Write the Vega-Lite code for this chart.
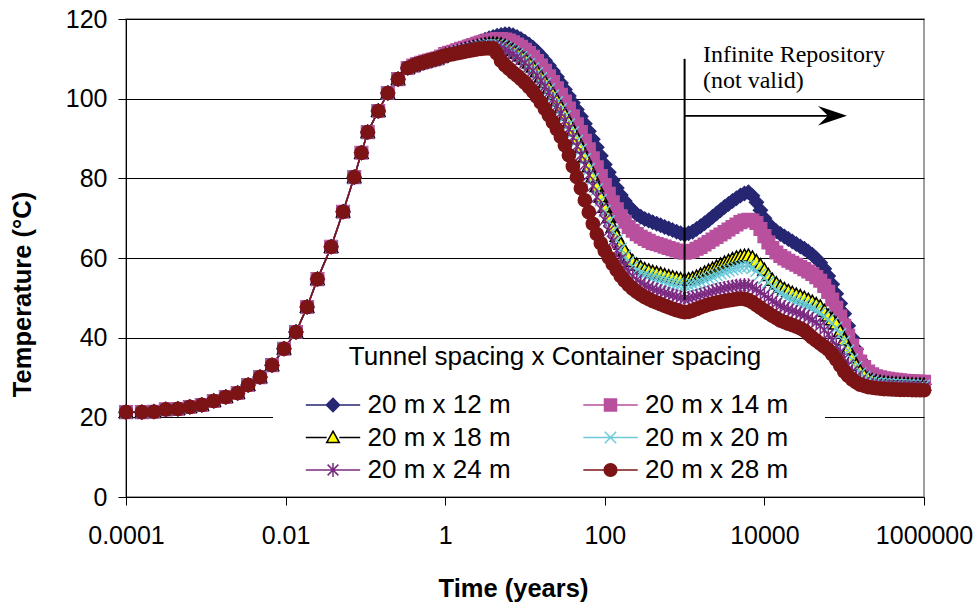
{
"$schema":"https://vega.github.io/schema/vega-lite/v6.json",
"width":798,"height":478,
"autosize":{"type":"none"},
"padding":{"left":126,"top":19,"right":53,"bottom":109},
"background":"white",
"config":{"font":"Liberation Sans","view":{"stroke":"#808080","strokeWidth":1.5},
"axis":{"labelFont":"Liberation Sans","titleFont":"Liberation Sans","labelColor":"black","titleColor":"black","domainColor":"black","tickColor":"black","gridColor":"black","gridOpacity":1,"domainWidth":1,"tickWidth":1},
"legend":{"labelFont":"Liberation Sans","titleFont":"Liberation Sans"}},
"datasets":{"curves":[
{"s":"12","t":0.0001,"T":21.3},{"s":"12","t":0.000158,"T":21.3},{"s":"12","t":0.000224,"T":21.4},{"s":"12","t":0.000316,"T":22},{"s":"12","t":0.000447,"T":22.1},{"s":"12","t":0.000631,"T":22.6},{"s":"12","t":0.000891,"T":23.1},{"s":"12","t":0.00126,"T":24.1},{"s":"12","t":0.00178,"T":25.1},{"s":"12","t":0.00251,"T":26.1},{"s":"12","t":0.00339,"T":28.1},{"s":"12","t":0.00479,"T":30.1},{"s":"12","t":0.00676,"T":33.1},{"s":"12","t":0.00955,"T":37.2},{"s":"12","t":0.0135,"T":41.4},{"s":"12","t":0.0186,"T":47.7},{"s":"12","t":0.0251,"T":54.7},{"s":"12","t":0.0372,"T":62.8},{"s":"12","t":0.0525,"T":71.6},{"s":"12","t":0.0724,"T":80.3},{"s":"12","t":0.0891,"T":86.4},{"s":"12","t":0.107,"T":91.6},{"s":"12","t":0.145,"T":96.9},{"s":"12","t":0.191,"T":101.4},{"s":"12","t":0.257,"T":104.9},{"s":"12","t":0.339,"T":107.7},{"s":"12","t":0.398,"T":108.3},{"s":"12","t":0.4467,"T":108.7},{"s":"12","t":0.501,"T":109},{"s":"12","t":0.5623,"T":109.3},{"s":"12","t":0.631,"T":109.6},{"s":"12","t":0.7079,"T":109.85},{"s":"12","t":0.794,"T":110.1},{"s":"12","t":0.8913,"T":110.6},
{"s":"12","t":1,"T":111.3},{"s":"12","t":1.122,"T":111.6},{"s":"12","t":1.259,"T":111.9},{"s":"12","t":1.413,"T":112.25},{"s":"12","t":1.585,"T":112.6},{"s":"12","t":1.778,"T":112.95},{"s":"12","t":1.995,"T":113.3},{"s":"12","t":2.239,"T":113.65},{"s":"12","t":2.512,"T":114},{"s":"12","t":2.818,"T":114.4},{"s":"12","t":3.162,"T":114.8},{"s":"12","t":3.548,"T":115.15},{"s":"12","t":3.981,"T":115.5},{"s":"12","t":4.467,"T":115.8},{"s":"12","t":5.012,"T":116},{"s":"12","t":5.623,"T":116.15},{"s":"12","t":6.31,"T":116.2},{"s":"12","t":7.079,"T":115.95},{"s":"12","t":7.943,"T":115.5},{"s":"12","t":8.913,"T":114.95},
{"s":"12","t":10,"T":114.3},{"s":"12","t":11.22,"T":113.6},{"s":"12","t":12.59,"T":112.8},{"s":"12","t":14.13,"T":111.85},{"s":"12","t":15.85,"T":110.8},{"s":"12","t":17.78,"T":109.6},{"s":"12","t":19.95,"T":108.3},{"s":"12","t":22.39,"T":106.95},{"s":"12","t":25.12,"T":105.5},{"s":"12","t":28.18,"T":103.95},{"s":"12","t":31.62,"T":102.3},{"s":"12","t":35.48,"T":100.7},{"s":"12","t":39.81,"T":99},{"s":"12","t":44.67,"T":97.3},{"s":"12","t":50.12,"T":95.5},{"s":"12","t":56.23,"T":93.7},{"s":"12","t":63.1,"T":91.8},{"s":"12","t":70.79,"T":89.8},{"s":"12","t":79.43,"T":87.8},{"s":"12","t":89.13,"T":85.7},
{"s":"12","t":100,"T":83.5},{"s":"12","t":112.2,"T":81.5},{"s":"12","t":125.9,"T":79.5},{"s":"12","t":141.3,"T":77.6},{"s":"12","t":158.5,"T":75.8},{"s":"12","t":177.8,"T":74.3},{"s":"12","t":199.5,"T":73},{"s":"12","t":223.9,"T":71.9},{"s":"12","t":251.2,"T":71},{"s":"12","t":281.8,"T":70.35},{"s":"12","t":316.2,"T":69.8},{"s":"12","t":354.8,"T":69.4},{"s":"12","t":398.1,"T":69},{"s":"12","t":446.7,"T":68.6},{"s":"12","t":501.2,"T":68.2},{"s":"12","t":562.3,"T":67.8},{"s":"12","t":631,"T":67.4},{"s":"12","t":707.9,"T":67},{"s":"12","t":794.3,"T":66.6},{"s":"12","t":891.3,"T":66.2},
{"s":"12","t":1000,"T":65.9},{"s":"12","t":1122,"T":66.2},{"s":"12","t":1259,"T":66.6},{"s":"12","t":1413,"T":67.3},{"s":"12","t":1585,"T":68},{"s":"12","t":1778,"T":68.75},{"s":"12","t":1995,"T":69.5},{"s":"12","t":2239,"T":70.35},{"s":"12","t":2512,"T":71.2},{"s":"12","t":2818,"T":72},{"s":"12","t":3162,"T":72.8},{"s":"12","t":3548,"T":73.55},{"s":"12","t":3981,"T":74.3},{"s":"12","t":4467,"T":75},{"s":"12","t":5012,"T":75.7},{"s":"12","t":5623,"T":76.2},{"s":"12","t":6310,"T":76.5},{"s":"12","t":7079,"T":75.6},{"s":"12","t":7943,"T":74},{"s":"12","t":8913,"T":72},
{"s":"12","t":10000,"T":70},{"s":"12","t":11220,"T":68.6},{"s":"12","t":12589,"T":67.5},{"s":"12","t":14125,"T":66.7},{"s":"12","t":15849,"T":66},{"s":"12","t":17783,"T":65.4},{"s":"12","t":19953,"T":64.8},{"s":"12","t":22387,"T":64.15},{"s":"12","t":25119,"T":63.5},{"s":"12","t":28184,"T":62.9},{"s":"12","t":31623,"T":62.3},{"s":"12","t":35481,"T":61.6},{"s":"12","t":39811,"T":60.8},{"s":"12","t":44668,"T":59.9},{"s":"12","t":50119,"T":58.8},{"s":"12","t":56234,"T":57.3},{"s":"12","t":63096,"T":55.5},{"s":"12","t":70795,"T":53.4},{"s":"12","t":79433,"T":51},{"s":"12","t":89125,"T":48.6},
{"s":"12","t":100000,"T":46},{"s":"12","t":112202,"T":43},{"s":"12","t":125893,"T":40},{"s":"12","t":141254,"T":37.1},{"s":"12","t":158489,"T":34.5},{"s":"12","t":177828,"T":32.5},{"s":"12","t":199526,"T":31},{"s":"12","t":223872,"T":30.3},{"s":"12","t":251189,"T":29.8},{"s":"12","t":281838,"T":29.45},{"s":"12","t":316228,"T":29.2},{"s":"12","t":354813,"T":29.05},{"s":"12","t":398107,"T":28.9},{"s":"12","t":446684,"T":28.8},{"s":"12","t":501187,"T":28.7},{"s":"12","t":562341,"T":28.6},{"s":"12","t":630957,"T":28.5},{"s":"12","t":707946,"T":28.45},{"s":"12","t":794328,"T":28.4},{"s":"12","t":891251,"T":28.35},{"s":"12","t":1000000,"T":28.3},

{"s":"14","t":0.0001,"T":21.3},{"s":"14","t":0.000158,"T":21.3},{"s":"14","t":0.000224,"T":21.4},{"s":"14","t":0.000316,"T":22},{"s":"14","t":0.000447,"T":22.1},{"s":"14","t":0.000631,"T":22.6},{"s":"14","t":0.000891,"T":23.1},{"s":"14","t":0.00126,"T":24.1},{"s":"14","t":0.00178,"T":25.1},{"s":"14","t":0.00251,"T":26.1},{"s":"14","t":0.00339,"T":28.1},{"s":"14","t":0.00479,"T":30.1},{"s":"14","t":0.00676,"T":33.1},{"s":"14","t":0.00955,"T":37.2},{"s":"14","t":0.0135,"T":41.4},{"s":"14","t":0.0186,"T":47.7},{"s":"14","t":0.0251,"T":54.7},{"s":"14","t":0.0372,"T":62.8},{"s":"14","t":0.0525,"T":71.6},{"s":"14","t":0.0724,"T":80.3},{"s":"14","t":0.0891,"T":86.4},{"s":"14","t":0.107,"T":91.6},{"s":"14","t":0.145,"T":96.9},{"s":"14","t":0.191,"T":101.4},{"s":"14","t":0.257,"T":104.9},{"s":"14","t":0.339,"T":107.7},{"s":"14","t":0.398,"T":108.3},{"s":"14","t":0.4467,"T":108.7},{"s":"14","t":0.501,"T":109},{"s":"14","t":0.5623,"T":109.3},{"s":"14","t":0.631,"T":109.6},{"s":"14","t":0.7079,"T":109.85},{"s":"14","t":0.794,"T":110.1},{"s":"14","t":0.8913,"T":110.6},
{"s":"14","t":1,"T":111.2},{"s":"14","t":1.122,"T":111.5},{"s":"14","t":1.259,"T":111.8},{"s":"14","t":1.413,"T":112.15},{"s":"14","t":1.585,"T":112.5},{"s":"14","t":1.778,"T":112.8},{"s":"14","t":1.995,"T":113.1},{"s":"14","t":2.239,"T":113.45},{"s":"14","t":2.512,"T":113.8},{"s":"14","t":2.818,"T":114.1},{"s":"14","t":3.162,"T":114.4},{"s":"14","t":3.548,"T":114.6},{"s":"14","t":3.981,"T":114.8},{"s":"14","t":4.467,"T":114.95},{"s":"14","t":5.012,"T":115},{"s":"14","t":5.623,"T":114.85},{"s":"14","t":6.31,"T":114.6},{"s":"14","t":7.079,"T":114.15},{"s":"14","t":7.943,"T":113.6},{"s":"14","t":8.913,"T":113},
{"s":"14","t":10,"T":112.3},{"s":"14","t":11.22,"T":111.45},{"s":"14","t":12.59,"T":110.5},{"s":"14","t":14.13,"T":109.45},{"s":"14","t":15.85,"T":108.3},{"s":"14","t":17.78,"T":107},{"s":"14","t":19.95,"T":105.6},{"s":"14","t":22.39,"T":104.15},{"s":"14","t":25.12,"T":102.6},{"s":"14","t":28.18,"T":100.95},{"s":"14","t":31.62,"T":99.3},{"s":"14","t":35.48,"T":97.5},{"s":"14","t":39.81,"T":95.6},{"s":"14","t":44.67,"T":93.6},{"s":"14","t":50.12,"T":91.6},{"s":"14","t":56.23,"T":89.45},{"s":"14","t":63.1,"T":87.3},{"s":"14","t":70.79,"T":85.05},{"s":"14","t":79.43,"T":82.8},{"s":"14","t":89.13,"T":80.55},
{"s":"14","t":100,"T":78.3},{"s":"14","t":112.2,"T":76.1},{"s":"14","t":125.9,"T":74},{"s":"14","t":141.3,"T":72.2},{"s":"14","t":158.5,"T":70.5},{"s":"14","t":177.8,"T":69.1},{"s":"14","t":199.5,"T":67.8},{"s":"14","t":223.9,"T":66.85},{"s":"14","t":251.2,"T":66},{"s":"14","t":281.8,"T":65.35},{"s":"14","t":316.2,"T":64.8},{"s":"14","t":354.8,"T":64.3},{"s":"14","t":398.1,"T":63.8},{"s":"14","t":446.7,"T":63.5},{"s":"14","t":501.2,"T":63.2},{"s":"14","t":562.3,"T":62.85},{"s":"14","t":631,"T":62.5},{"s":"14","t":707.9,"T":62.2},{"s":"14","t":794.3,"T":61.9},{"s":"14","t":891.3,"T":61.6},
{"s":"14","t":1000,"T":61.3},{"s":"14","t":1122,"T":61.5},{"s":"14","t":1259,"T":61.8},{"s":"14","t":1413,"T":62.3},{"s":"14","t":1585,"T":62.8},{"s":"14","t":1778,"T":63.4},{"s":"14","t":1995,"T":64},{"s":"14","t":2239,"T":64.65},{"s":"14","t":2512,"T":65.3},{"s":"14","t":2818,"T":65.9},{"s":"14","t":3162,"T":66.5},{"s":"14","t":3548,"T":67.15},{"s":"14","t":3981,"T":67.8},{"s":"14","t":4467,"T":68.4},{"s":"14","t":5012,"T":69},{"s":"14","t":5623,"T":69.4},{"s":"14","t":6310,"T":69.6},{"s":"14","t":7079,"T":69.4},{"s":"14","t":7943,"T":68.8},{"s":"14","t":8913,"T":67.3},
{"s":"14","t":10000,"T":65.5},{"s":"14","t":11220,"T":63.9},{"s":"14","t":12589,"T":62.5},{"s":"14","t":14125,"T":61.4},{"s":"14","t":15849,"T":60.5},{"s":"14","t":17783,"T":59.9},{"s":"14","t":19953,"T":59.3},{"s":"14","t":22387,"T":58.8},{"s":"14","t":25119,"T":58.3},{"s":"14","t":28184,"T":57.75},{"s":"14","t":31623,"T":57.2},{"s":"14","t":35481,"T":56.6},{"s":"14","t":39811,"T":56},{"s":"14","t":44668,"T":55.2},{"s":"14","t":50119,"T":54.3},{"s":"14","t":56234,"T":53},{"s":"14","t":63096,"T":51.5},{"s":"14","t":70795,"T":49.6},{"s":"14","t":79433,"T":47.5},{"s":"14","t":89125,"T":45.3},
{"s":"14","t":100000,"T":43},{"s":"14","t":112202,"T":40.5},{"s":"14","t":125893,"T":38},{"s":"14","t":141254,"T":35.9},{"s":"14","t":158489,"T":34},{"s":"14","t":177828,"T":32.6},{"s":"14","t":199526,"T":31.5},{"s":"14","t":223872,"T":30.8},{"s":"14","t":251189,"T":30.3},{"s":"14","t":281838,"T":30.05},{"s":"14","t":316228,"T":29.8},{"s":"14","t":354813,"T":29.65},{"s":"14","t":398107,"T":29.5},{"s":"14","t":446684,"T":29.4},{"s":"14","t":501187,"T":29.3},{"s":"14","t":562341,"T":29.2},{"s":"14","t":630957,"T":29.1},{"s":"14","t":707946,"T":29.05},{"s":"14","t":794328,"T":29},{"s":"14","t":891251,"T":28.95},{"s":"14","t":1000000,"T":28.9},

{"s":"18","t":0.0001,"T":21.3},{"s":"18","t":0.000158,"T":21.3},{"s":"18","t":0.000224,"T":21.4},{"s":"18","t":0.000316,"T":22},{"s":"18","t":0.000447,"T":22.1},{"s":"18","t":0.000631,"T":22.6},{"s":"18","t":0.000891,"T":23.1},{"s":"18","t":0.00126,"T":24.1},{"s":"18","t":0.00178,"T":25.1},{"s":"18","t":0.00251,"T":26.1},{"s":"18","t":0.00339,"T":28.1},{"s":"18","t":0.00479,"T":30.1},{"s":"18","t":0.00676,"T":33.1},{"s":"18","t":0.00955,"T":37.2},{"s":"18","t":0.0135,"T":41.4},{"s":"18","t":0.0186,"T":47.7},{"s":"18","t":0.0251,"T":54.7},{"s":"18","t":0.0372,"T":62.8},{"s":"18","t":0.0525,"T":71.6},{"s":"18","t":0.0724,"T":80.3},{"s":"18","t":0.0891,"T":86.4},{"s":"18","t":0.107,"T":91.6},{"s":"18","t":0.145,"T":96.9},{"s":"18","t":0.191,"T":101.4},{"s":"18","t":0.257,"T":104.9},{"s":"18","t":0.339,"T":107.7},{"s":"18","t":0.398,"T":108.3},{"s":"18","t":0.4467,"T":108.7},{"s":"18","t":0.501,"T":109},{"s":"18","t":0.5623,"T":109.3},{"s":"18","t":0.631,"T":109.6},{"s":"18","t":0.7079,"T":109.85},{"s":"18","t":0.794,"T":110.1},{"s":"18","t":0.8913,"T":110.5},
{"s":"18","t":1,"T":111},{"s":"18","t":1.122,"T":111.25},{"s":"18","t":1.259,"T":111.5},{"s":"18","t":1.413,"T":111.8},{"s":"18","t":1.585,"T":112.1},{"s":"18","t":1.778,"T":112.4},{"s":"18","t":1.995,"T":112.7},{"s":"18","t":2.239,"T":112.95},{"s":"18","t":2.512,"T":113.2},{"s":"18","t":2.818,"T":113.4},{"s":"18","t":3.162,"T":113.6},{"s":"18","t":3.548,"T":113.75},{"s":"18","t":3.981,"T":113.8},{"s":"18","t":4.467,"T":113.75},{"s":"18","t":5.012,"T":113.6},{"s":"18","t":5.623,"T":113.2},{"s":"18","t":6.31,"T":112.7},{"s":"18","t":7.079,"T":112.15},{"s":"18","t":7.943,"T":111.5},{"s":"18","t":8.913,"T":110.8},
{"s":"18","t":10,"T":110},{"s":"18","t":11.22,"T":109.05},{"s":"18","t":12.59,"T":108},{"s":"18","t":14.13,"T":106.8},{"s":"18","t":15.85,"T":105.5},{"s":"18","t":17.78,"T":104.15},{"s":"18","t":19.95,"T":102.7},{"s":"18","t":22.39,"T":101.15},{"s":"18","t":25.12,"T":99.5},{"s":"18","t":28.18,"T":97.8},{"s":"18","t":31.62,"T":96},{"s":"18","t":35.48,"T":94.05},{"s":"18","t":39.81,"T":92},{"s":"18","t":44.67,"T":89.95},{"s":"18","t":50.12,"T":87.8},{"s":"18","t":56.23,"T":85.45},{"s":"18","t":63.1,"T":83},{"s":"18","t":70.79,"T":80.5},{"s":"18","t":79.43,"T":78},{"s":"18","t":89.13,"T":75.4},
{"s":"18","t":100,"T":72.8},{"s":"18","t":112.2,"T":70.25},{"s":"18","t":125.9,"T":67.8},{"s":"18","t":141.3,"T":65.55},{"s":"18","t":158.5,"T":63.5},{"s":"18","t":177.8,"T":61.8},{"s":"18","t":199.5,"T":60.3},{"s":"18","t":223.9,"T":59.2},{"s":"18","t":251.2,"T":58.3},{"s":"18","t":281.8,"T":57.7},{"s":"18","t":316.2,"T":57.2},{"s":"18","t":354.8,"T":56.85},{"s":"18","t":398.1,"T":56.5},{"s":"18","t":446.7,"T":56.25},{"s":"18","t":501.2,"T":56},{"s":"18","t":562.3,"T":55.7},{"s":"18","t":631,"T":55.4},{"s":"18","t":707.9,"T":55.15},{"s":"18","t":794.3,"T":54.9},{"s":"18","t":891.3,"T":54.7},
{"s":"18","t":1000,"T":54.5},{"s":"18","t":1122,"T":54.65},{"s":"18","t":1259,"T":54.9},{"s":"18","t":1413,"T":55.3},{"s":"18","t":1585,"T":55.8},{"s":"18","t":1778,"T":56.3},{"s":"18","t":1995,"T":56.8},{"s":"18","t":2239,"T":57.3},{"s":"18","t":2512,"T":57.8},{"s":"18","t":2818,"T":58.3},{"s":"18","t":3162,"T":58.8},{"s":"18","t":3548,"T":59.25},{"s":"18","t":3981,"T":59.7},{"s":"18","t":4467,"T":60.1},{"s":"18","t":5012,"T":60.4},{"s":"18","t":5623,"T":60.55},{"s":"18","t":6310,"T":60.6},{"s":"18","t":7079,"T":60.1},{"s":"18","t":7943,"T":59.2},{"s":"18","t":8913,"T":58.2},
{"s":"18","t":10000,"T":57},{"s":"18","t":11220,"T":55.7},{"s":"18","t":12589,"T":54.5},{"s":"18","t":14125,"T":53.6},{"s":"18","t":15849,"T":52.8},{"s":"18","t":17783,"T":52.2},{"s":"18","t":19953,"T":51.7},{"s":"18","t":22387,"T":51.25},{"s":"18","t":25119,"T":50.8},{"s":"18","t":28184,"T":50.4},{"s":"18","t":31623,"T":50},{"s":"18","t":35481,"T":49.5},{"s":"18","t":39811,"T":49},{"s":"18","t":44668,"T":48.4},{"s":"18","t":50119,"T":47.8},{"s":"18","t":56234,"T":46.7},{"s":"18","t":63096,"T":45.5},{"s":"18","t":70795,"T":44.6},{"s":"18","t":79433,"T":43.5},{"s":"18","t":89125,"T":41.6},
{"s":"18","t":100000,"T":39.5},{"s":"18","t":112202,"T":37.2},{"s":"18","t":125893,"T":35},{"s":"18","t":141254,"T":33.1},{"s":"18","t":158489,"T":31.5},{"s":"18","t":177828,"T":30.5},{"s":"18","t":199526,"T":29.7},{"s":"18","t":223872,"T":29.3},{"s":"18","t":251189,"T":29},{"s":"18","t":281838,"T":28.85},{"s":"18","t":316228,"T":28.7},{"s":"18","t":354813,"T":28.6},{"s":"18","t":398107,"T":28.5},{"s":"18","t":446684,"T":28.45},{"s":"18","t":501187,"T":28.4},{"s":"18","t":562341,"T":28.35},{"s":"18","t":630957,"T":28.3},{"s":"18","t":707946,"T":28.25},{"s":"18","t":794328,"T":28.2},{"s":"18","t":891251,"T":28.2},{"s":"18","t":1000000,"T":28.2},

{"s":"20","t":0.0001,"T":21.3},{"s":"20","t":0.000158,"T":21.3},{"s":"20","t":0.000224,"T":21.4},{"s":"20","t":0.000316,"T":22},{"s":"20","t":0.000447,"T":22.1},{"s":"20","t":0.000631,"T":22.6},{"s":"20","t":0.000891,"T":23.1},{"s":"20","t":0.00126,"T":24.1},{"s":"20","t":0.00178,"T":25.1},{"s":"20","t":0.00251,"T":26.1},{"s":"20","t":0.00339,"T":28.1},{"s":"20","t":0.00479,"T":30.1},{"s":"20","t":0.00676,"T":33.1},{"s":"20","t":0.00955,"T":37.2},{"s":"20","t":0.0135,"T":41.4},{"s":"20","t":0.0186,"T":47.7},{"s":"20","t":0.0251,"T":54.7},{"s":"20","t":0.0372,"T":62.8},{"s":"20","t":0.0525,"T":71.6},{"s":"20","t":0.0724,"T":80.3},{"s":"20","t":0.0891,"T":86.4},{"s":"20","t":0.107,"T":91.6},{"s":"20","t":0.145,"T":96.9},{"s":"20","t":0.191,"T":101.4},{"s":"20","t":0.257,"T":104.9},{"s":"20","t":0.339,"T":107.7},{"s":"20","t":0.398,"T":108.3},{"s":"20","t":0.4467,"T":108.7},{"s":"20","t":0.501,"T":109},{"s":"20","t":0.5623,"T":109.3},{"s":"20","t":0.631,"T":109.6},{"s":"20","t":0.7079,"T":109.85},{"s":"20","t":0.794,"T":110.1},{"s":"20","t":0.8913,"T":110.5},
{"s":"20","t":1,"T":111},{"s":"20","t":1.122,"T":111.2},{"s":"20","t":1.259,"T":111.4},{"s":"20","t":1.413,"T":111.7},{"s":"20","t":1.585,"T":112},{"s":"20","t":1.778,"T":112.25},{"s":"20","t":1.995,"T":112.5},{"s":"20","t":2.239,"T":112.75},{"s":"20","t":2.512,"T":113},{"s":"20","t":2.818,"T":113.2},{"s":"20","t":3.162,"T":113.4},{"s":"20","t":3.548,"T":113.5},{"s":"20","t":3.981,"T":113.5},{"s":"20","t":4.467,"T":113.4},{"s":"20","t":5.012,"T":113.2},{"s":"20","t":5.623,"T":112.8},{"s":"20","t":6.31,"T":112.3},{"s":"20","t":7.079,"T":111.75},{"s":"20","t":7.943,"T":111.1},{"s":"20","t":8.913,"T":110.4},
{"s":"20","t":10,"T":109.6},{"s":"20","t":11.22,"T":108.65},{"s":"20","t":12.59,"T":107.6},{"s":"20","t":14.13,"T":106.4},{"s":"20","t":15.85,"T":105.1},{"s":"20","t":17.78,"T":103.75},{"s":"20","t":19.95,"T":102.3},{"s":"20","t":22.39,"T":100.75},{"s":"20","t":25.12,"T":99.1},{"s":"20","t":28.18,"T":97.35},{"s":"20","t":31.62,"T":95.5},{"s":"20","t":35.48,"T":93.55},{"s":"20","t":39.81,"T":91.5},{"s":"20","t":44.67,"T":89.4},{"s":"20","t":50.12,"T":87.2},{"s":"20","t":56.23,"T":84.8},{"s":"20","t":63.1,"T":82.3},{"s":"20","t":70.79,"T":79.8},{"s":"20","t":79.43,"T":77.2},{"s":"20","t":89.13,"T":74.5},
{"s":"20","t":100,"T":71.8},{"s":"20","t":112.2,"T":69.2},{"s":"20","t":125.9,"T":66.7},{"s":"20","t":141.3,"T":64.4},{"s":"20","t":158.5,"T":62.3},{"s":"20","t":177.8,"T":60.5},{"s":"20","t":199.5,"T":59},{"s":"20","t":223.9,"T":57.85},{"s":"20","t":251.2,"T":56.9},{"s":"20","t":281.8,"T":56.3},{"s":"20","t":316.2,"T":55.8},{"s":"20","t":354.8,"T":55.45},{"s":"20","t":398.1,"T":55.1},{"s":"20","t":446.7,"T":54.85},{"s":"20","t":501.2,"T":54.6},{"s":"20","t":562.3,"T":54.3},{"s":"20","t":631,"T":54},{"s":"20","t":707.9,"T":53.75},{"s":"20","t":794.3,"T":53.5},{"s":"20","t":891.3,"T":53.3},
{"s":"20","t":1000,"T":53.1},{"s":"20","t":1122,"T":53.2},{"s":"20","t":1259,"T":53.4},{"s":"20","t":1413,"T":53.75},{"s":"20","t":1585,"T":54.1},{"s":"20","t":1778,"T":54.5},{"s":"20","t":1995,"T":54.9},{"s":"20","t":2239,"T":55.3},{"s":"20","t":2512,"T":55.7},{"s":"20","t":2818,"T":56.1},{"s":"20","t":3162,"T":56.5},{"s":"20","t":3548,"T":56.85},{"s":"20","t":3981,"T":57.2},{"s":"20","t":4467,"T":57.5},{"s":"20","t":5012,"T":57.8},{"s":"20","t":5623,"T":57.95},{"s":"20","t":6310,"T":58},{"s":"20","t":7079,"T":57.5},{"s":"20","t":7943,"T":56.8},{"s":"20","t":8913,"T":55.95},
{"s":"20","t":10000,"T":55},{"s":"20","t":11220,"T":53.9},{"s":"20","t":12589,"T":52.8},{"s":"20","t":14125,"T":51.95},{"s":"20","t":15849,"T":51.2},{"s":"20","t":17783,"T":50.55},{"s":"20","t":19953,"T":50},{"s":"20","t":22387,"T":49.55},{"s":"20","t":25119,"T":49.1},{"s":"20","t":28184,"T":48.7},{"s":"20","t":31623,"T":48.3},{"s":"20","t":35481,"T":47.85},{"s":"20","t":39811,"T":47.4},{"s":"20","t":44668,"T":46.8},{"s":"20","t":50119,"T":46.2},{"s":"20","t":56234,"T":45.4},{"s":"20","t":63096,"T":44.5},{"s":"20","t":70795,"T":43.6},{"s":"20","t":79433,"T":42.5},{"s":"20","t":89125,"T":40.9},
{"s":"20","t":100000,"T":39},{"s":"20","t":112202,"T":36.8},{"s":"20","t":125893,"T":34.5},{"s":"20","t":141254,"T":32.6},{"s":"20","t":158489,"T":31},{"s":"20","t":177828,"T":30.1},{"s":"20","t":199526,"T":29.4},{"s":"20","t":223872,"T":29},{"s":"20","t":251189,"T":28.7},{"s":"20","t":281838,"T":28.55},{"s":"20","t":316228,"T":28.4},{"s":"20","t":354813,"T":28.35},{"s":"20","t":398107,"T":28.3},{"s":"20","t":446684,"T":28.25},{"s":"20","t":501187,"T":28.2},{"s":"20","t":562341,"T":28.15},{"s":"20","t":630957,"T":28.1},{"s":"20","t":707946,"T":28.05},{"s":"20","t":794328,"T":28},{"s":"20","t":891251,"T":28},{"s":"20","t":1000000,"T":28},

{"s":"24","t":0.0001,"T":21.3},{"s":"24","t":0.000158,"T":21.3},{"s":"24","t":0.000224,"T":21.4},{"s":"24","t":0.000316,"T":22},{"s":"24","t":0.000447,"T":22.1},{"s":"24","t":0.000631,"T":22.6},{"s":"24","t":0.000891,"T":23.1},{"s":"24","t":0.00126,"T":24.1},{"s":"24","t":0.00178,"T":25.1},{"s":"24","t":0.00251,"T":26.1},{"s":"24","t":0.00339,"T":28.1},{"s":"24","t":0.00479,"T":30.1},{"s":"24","t":0.00676,"T":33.1},{"s":"24","t":0.00955,"T":37.2},{"s":"24","t":0.0135,"T":41.4},{"s":"24","t":0.0186,"T":47.7},{"s":"24","t":0.0251,"T":54.7},{"s":"24","t":0.0372,"T":62.8},{"s":"24","t":0.0525,"T":71.6},{"s":"24","t":0.0724,"T":80.3},{"s":"24","t":0.0891,"T":86.4},{"s":"24","t":0.107,"T":91.6},{"s":"24","t":0.145,"T":96.9},{"s":"24","t":0.191,"T":101.4},{"s":"24","t":0.257,"T":104.9},{"s":"24","t":0.339,"T":107.7},{"s":"24","t":0.398,"T":108.3},{"s":"24","t":0.4467,"T":108.7},{"s":"24","t":0.501,"T":109},{"s":"24","t":0.5623,"T":109.3},{"s":"24","t":0.631,"T":109.6},{"s":"24","t":0.7079,"T":109.85},{"s":"24","t":0.794,"T":110.1},{"s":"24","t":0.8913,"T":110.5},
{"s":"24","t":1,"T":110.9},{"s":"24","t":1.122,"T":111.1},{"s":"24","t":1.259,"T":111.3},{"s":"24","t":1.413,"T":111.55},{"s":"24","t":1.585,"T":111.8},{"s":"24","t":1.778,"T":112.05},{"s":"24","t":1.995,"T":112.3},{"s":"24","t":2.239,"T":112.5},{"s":"24","t":2.512,"T":112.7},{"s":"24","t":2.818,"T":112.85},{"s":"24","t":3.162,"T":113},{"s":"24","t":3.548,"T":113.05},{"s":"24","t":3.981,"T":113},{"s":"24","t":4.467,"T":112.9},{"s":"24","t":5.012,"T":112.7},{"s":"24","t":5.623,"T":112.3},{"s":"24","t":6.31,"T":111.8},{"s":"24","t":7.079,"T":111.2},{"s":"24","t":7.943,"T":110.5},{"s":"24","t":8.913,"T":109.8},
{"s":"24","t":10,"T":109},{"s":"24","t":11.22,"T":108.05},{"s":"24","t":12.59,"T":107},{"s":"24","t":14.13,"T":105.8},{"s":"24","t":15.85,"T":104.5},{"s":"24","t":17.78,"T":103.05},{"s":"24","t":19.95,"T":101.5},{"s":"24","t":22.39,"T":99.9},{"s":"24","t":25.12,"T":98.2},{"s":"24","t":28.18,"T":96.4},{"s":"24","t":31.62,"T":94.5},{"s":"24","t":35.48,"T":92.45},{"s":"24","t":39.81,"T":90.3},{"s":"24","t":44.67,"T":88.1},{"s":"24","t":50.12,"T":85.8},{"s":"24","t":56.23,"T":83.35},{"s":"24","t":63.1,"T":80.8},{"s":"24","t":70.79,"T":78.1},{"s":"24","t":79.43,"T":75.3},{"s":"24","t":89.13,"T":72.4},
{"s":"24","t":100,"T":69.5},{"s":"24","t":112.2,"T":66.8},{"s":"24","t":125.9,"T":64.2},{"s":"24","t":141.3,"T":61.9},{"s":"24","t":158.5,"T":59.7},{"s":"24","t":177.8,"T":58},{"s":"24","t":199.5,"T":56.5},{"s":"24","t":223.9,"T":55.4},{"s":"24","t":251.2,"T":54.5},{"s":"24","t":281.8,"T":53.8},{"s":"24","t":316.2,"T":53.2},{"s":"24","t":354.8,"T":52.75},{"s":"24","t":398.1,"T":52.3},{"s":"24","t":446.7,"T":51.95},{"s":"24","t":501.2,"T":51.6},{"s":"24","t":562.3,"T":51.25},{"s":"24","t":631,"T":50.9},{"s":"24","t":707.9,"T":50.6},{"s":"24","t":794.3,"T":50.3},{"s":"24","t":891.3,"T":50.05},
{"s":"24","t":1000,"T":49.8},{"s":"24","t":1122,"T":49.9},{"s":"24","t":1259,"T":50.1},{"s":"24","t":1413,"T":50.4},{"s":"24","t":1585,"T":50.7},{"s":"24","t":1778,"T":51},{"s":"24","t":1995,"T":51.3},{"s":"24","t":2239,"T":51.6},{"s":"24","t":2512,"T":51.9},{"s":"24","t":2818,"T":52.15},{"s":"24","t":3162,"T":52.4},{"s":"24","t":3548,"T":52.6},{"s":"24","t":3981,"T":52.8},{"s":"24","t":4467,"T":52.95},{"s":"24","t":5012,"T":53.1},{"s":"24","t":5623,"T":53.15},{"s":"24","t":6310,"T":53.1},{"s":"24","t":7079,"T":52.7},{"s":"24","t":7943,"T":52.1},{"s":"24","t":8913,"T":51.4},
{"s":"24","t":10000,"T":50.7},{"s":"24","t":11220,"T":49.95},{"s":"24","t":12589,"T":49.2},{"s":"24","t":14125,"T":48.6},{"s":"24","t":15849,"T":48},{"s":"24","t":17783,"T":47.55},{"s":"24","t":19953,"T":47.1},{"s":"24","t":22387,"T":46.75},{"s":"24","t":25119,"T":46.4},{"s":"24","t":28184,"T":46},{"s":"24","t":31623,"T":45.6},{"s":"24","t":35481,"T":45.05},{"s":"24","t":39811,"T":44.5},{"s":"24","t":44668,"T":43.8},{"s":"24","t":50119,"T":43},{"s":"24","t":56234,"T":41.95},{"s":"24","t":63096,"T":40.8},{"s":"24","t":70795,"T":39.4},{"s":"24","t":79433,"T":38},{"s":"24","t":89125,"T":36.4},
{"s":"24","t":100000,"T":34.8},{"s":"24","t":112202,"T":33.1},{"s":"24","t":125893,"T":31.5},{"s":"24","t":141254,"T":30.3},{"s":"24","t":158489,"T":29.3},{"s":"24","t":177828,"T":28.7},{"s":"24","t":199526,"T":28.3},{"s":"24","t":223872,"T":28.1},{"s":"24","t":251189,"T":27.9},{"s":"24","t":281838,"T":27.8},{"s":"24","t":316228,"T":27.7},{"s":"24","t":354813,"T":27.65},{"s":"24","t":398107,"T":27.6},{"s":"24","t":446684,"T":27.55},{"s":"24","t":501187,"T":27.5},{"s":"24","t":562341,"T":27.5},{"s":"24","t":630957,"T":27.5},{"s":"24","t":707946,"T":27.45},{"s":"24","t":794328,"T":27.4},{"s":"24","t":891251,"T":27.4},{"s":"24","t":1000000,"T":27.4},

{"s":"28","t":0.0001,"T":21.3},{"s":"28","t":0.000158,"T":21.3},{"s":"28","t":0.000224,"T":21.4},{"s":"28","t":0.000316,"T":22},{"s":"28","t":0.000447,"T":22.1},{"s":"28","t":0.000631,"T":22.6},{"s":"28","t":0.000891,"T":23.1},{"s":"28","t":0.00126,"T":24.1},{"s":"28","t":0.00178,"T":25.1},{"s":"28","t":0.00251,"T":26.1},{"s":"28","t":0.00339,"T":28.1},{"s":"28","t":0.00479,"T":30.1},{"s":"28","t":0.00676,"T":33.1},{"s":"28","t":0.00955,"T":37.2},{"s":"28","t":0.0135,"T":41.4},{"s":"28","t":0.0186,"T":47.7},{"s":"28","t":0.0251,"T":54.7},{"s":"28","t":0.0372,"T":62.8},{"s":"28","t":0.0525,"T":71.6},{"s":"28","t":0.0724,"T":80.3},{"s":"28","t":0.0891,"T":86.4},{"s":"28","t":0.107,"T":91.6},{"s":"28","t":0.145,"T":96.9},{"s":"28","t":0.191,"T":101.4},{"s":"28","t":0.257,"T":104.9},{"s":"28","t":0.339,"T":107.7},{"s":"28","t":0.398,"T":108.3},{"s":"28","t":0.4467,"T":108.7},{"s":"28","t":0.501,"T":109},{"s":"28","t":0.5623,"T":109.3},{"s":"28","t":0.631,"T":109.6},{"s":"28","t":0.7079,"T":109.85},{"s":"28","t":0.794,"T":110.1},{"s":"28","t":0.8913,"T":110.5},
{"s":"28","t":1,"T":110.8},{"s":"28","t":1.122,"T":111},{"s":"28","t":1.259,"T":111.2},{"s":"28","t":1.413,"T":111.4},{"s":"28","t":1.585,"T":111.6},{"s":"28","t":1.778,"T":111.8},{"s":"28","t":1.995,"T":112},{"s":"28","t":2.239,"T":112.2},{"s":"28","t":2.512,"T":112.4},{"s":"28","t":2.818,"T":112.5},{"s":"28","t":3.162,"T":112.6},{"s":"28","t":3.548,"T":112.65},{"s":"28","t":3.981,"T":112.6},{"s":"28","t":4.467,"T":111.3},{"s":"28","t":5.012,"T":109.5},{"s":"28","t":5.623,"T":108.4},{"s":"28","t":6.31,"T":107.5},{"s":"28","t":7.079,"T":106.6},{"s":"28","t":7.943,"T":105.8},{"s":"28","t":8.913,"T":104.9},
{"s":"28","t":10,"T":104},{"s":"28","t":11.22,"T":102.9},{"s":"28","t":12.59,"T":101.8},{"s":"28","t":14.13,"T":100.45},{"s":"28","t":15.85,"T":99},{"s":"28","t":17.78,"T":97.45},{"s":"28","t":19.95,"T":95.8},{"s":"28","t":22.39,"T":94.1},{"s":"28","t":25.12,"T":92.3},{"s":"28","t":28.18,"T":90.4},{"s":"28","t":31.62,"T":88.3},{"s":"28","t":35.48,"T":85.8},{"s":"28","t":39.81,"T":83},{"s":"28","t":44.67,"T":80.3},{"s":"28","t":50.12,"T":77.5},{"s":"28","t":56.23,"T":74.5},{"s":"28","t":63.1,"T":71.5},{"s":"28","t":70.79,"T":68.6},{"s":"28","t":79.43,"T":66},{"s":"28","t":89.13,"T":63.7},
{"s":"28","t":100,"T":61.8},{"s":"28","t":112.2,"T":60.1},{"s":"28","t":125.9,"T":58.5},{"s":"28","t":141.3,"T":56.95},{"s":"28","t":158.5,"T":55.5},{"s":"28","t":177.8,"T":54.3},{"s":"28","t":199.5,"T":53.2},{"s":"28","t":223.9,"T":52.3},{"s":"28","t":251.2,"T":51.5},{"s":"28","t":281.8,"T":50.8},{"s":"28","t":316.2,"T":50.2},{"s":"28","t":354.8,"T":49.7},{"s":"28","t":398.1,"T":49.2},{"s":"28","t":446.7,"T":48.8},{"s":"28","t":501.2,"T":48.4},{"s":"28","t":562.3,"T":48},{"s":"28","t":631,"T":47.6},{"s":"28","t":707.9,"T":47.25},{"s":"28","t":794.3,"T":46.9},{"s":"28","t":891.3,"T":46.6},
{"s":"28","t":1000,"T":46.4},{"s":"28","t":1122,"T":46.5},{"s":"28","t":1259,"T":46.8},{"s":"28","t":1413,"T":47.2},{"s":"28","t":1585,"T":47.6},{"s":"28","t":1778,"T":47.95},{"s":"28","t":1995,"T":48.3},{"s":"28","t":2239,"T":48.55},{"s":"28","t":2512,"T":48.8},{"s":"28","t":2818,"T":49},{"s":"28","t":3162,"T":49.2},{"s":"28","t":3548,"T":49.35},{"s":"28","t":3981,"T":49.5},{"s":"28","t":4467,"T":49.65},{"s":"28","t":5012,"T":49.8},{"s":"28","t":5623,"T":49.7},{"s":"28","t":6310,"T":49.4},{"s":"28","t":7079,"T":48.9},{"s":"28","t":7943,"T":48.2},{"s":"28","t":8913,"T":47.5},
{"s":"28","t":10000,"T":46.8},{"s":"28","t":11220,"T":46.15},{"s":"28","t":12589,"T":45.5},{"s":"28","t":14125,"T":44.9},{"s":"28","t":15849,"T":44.3},{"s":"28","t":17783,"T":43.9},{"s":"28","t":19953,"T":43.5},{"s":"28","t":22387,"T":43.15},{"s":"28","t":25119,"T":42.8},{"s":"28","t":28184,"T":42.35},{"s":"28","t":31623,"T":41.8},{"s":"28","t":35481,"T":40.9},{"s":"28","t":39811,"T":40},{"s":"28","t":44668,"T":39.25},{"s":"28","t":50119,"T":38.5},{"s":"28","t":56234,"T":37.75},{"s":"28","t":63096,"T":37},{"s":"28","t":70795,"T":35.8},{"s":"28","t":79433,"T":34.5},{"s":"28","t":89125,"T":33},
{"s":"28","t":100000,"T":31.5},{"s":"28","t":112202,"T":30.4},{"s":"28","t":125893,"T":29.5},{"s":"28","t":141254,"T":28.8},{"s":"28","t":158489,"T":28.2},{"s":"28","t":177828,"T":27.9},{"s":"28","t":199526,"T":27.6},{"s":"28","t":223872,"T":27.45},{"s":"28","t":251189,"T":27.3},{"s":"28","t":281838,"T":27.2},{"s":"28","t":316228,"T":27.1},{"s":"28","t":354813,"T":27.05},{"s":"28","t":398107,"T":27},{"s":"28","t":446684,"T":26.95},{"s":"28","t":501187,"T":26.9},{"s":"28","t":562341,"T":26.9},{"s":"28","t":630957,"T":26.9},{"s":"28","t":707946,"T":26.85},{"s":"28","t":794328,"T":26.8},{"s":"28","t":891251,"T":26.8},{"s":"28","t":1000000,"T":26.8}
]},
"resolve":{"scale":{"shape":"independent","fill":"independent","stroke":"independent"}},
"layer":[
{"data":{"name":"curves"},
 "mark":{"type":"line","strokeWidth":1.5},
 "encoding":{
  "x":{"field":"t","type":"quantitative","scale":{"type":"log","domain":[0.0001,1000000],"nice":false},
   "axis":{"values":[0.0001,0.01,1,100,10000,1000000],"format":"~f","grid":false,"tickSize":8,"labelFontSize":25,"labelPadding":38,"labelBaseline":"alphabetic","labelFlush":false,"labelOverlap":false,
    "title":"Time (years)","titleFontSize":25.5,"titleFontWeight":"bold","titleX":387,"titleY":99,"titleBaseline":"alphabetic","titleAnchor":"middle","titleAlign":"center"}},
  "y":{"field":"T","type":"quantitative","scale":{"domain":[0,120],"nice":false},
   "axis":{"values":[0,20,40,60,80,100,120],"grid":true,"gridWidth":1,"tickSize":8,"labelFontSize":25,"labelPadding":11,
    "title":"Temperature (°C)","titleFontSize":25.5,"titleFontWeight":"bold","titleAngle":270,"titleX":-96,"titleY":275,"titleBaseline":"alphabetic","titleAlign":"center"}},
  "stroke":{"field":"s","type":"nominal","scale":{"domain":["12","14","18","20","24","28"],"range":["#262673","#B8509E","#000000","#6BCBD9","#7A2B80","#7C1416"]},"legend":null}
 }},
{"data":{"name":"curves"},
 "mark":{"type":"point","filled":true,"opacity":1,"size":175,"strokeWidth":1.5},
 "encoding":{
  "x":{"field":"t","type":"quantitative"},
  "y":{"field":"T","type":"quantitative"},
  "stroke":{"field":"s","type":"nominal","scale":{"domain":["12","14","18","20","24","28"],"range":["#262673","#B8509E","#000000","#6BCBD9","#7A2B80","#7C1416"]},"legend":null},
  "fill":{"field":"s","type":"nominal","scale":{"domain":["12","14","18","20","24","28"],"range":["#262673","#B8509E","#FFFF00","transparent","transparent","#7C1416"]},"legend":null},
  "shape":{"field":"s","type":"nominal","scale":{"domain":["12","14","18","20","24","28"],"range":["M0,-1.05L1.05,0L0,1.05L-1.05,0Z","M-0.95,-0.95H0.95V0.95H-0.95Z","M0,-1L1,0.8L-1,0.8Z","M-0.9,-0.9L0.9,0.9M-0.9,0.9L0.9,-0.9","M-0.85,-0.85L0.85,0.85M-0.85,0.85L0.85,-0.85M0,-1.1V1.1","circle"]},"legend":null}
 }},
{"data":{"name":"curves"},
 "transform":[{"filter":"false"}],
 "mark":{"type":"point","filled":true,"opacity":1,"size":160,"strokeWidth":1.5},
 "encoding":{
  "x":{"field":"t","type":"quantitative"},
  "y":{"field":"T","type":"quantitative"},
  "stroke":{"field":"s","type":"nominal","title":null,"scale":{"domain":["12","18","24","14","20","28"],"range":["#262673","#000000","#7A2B80","#B8509E","#6BCBD9","#7C1416"]}},
  "fill":{"field":"s","type":"nominal","title":null,"scale":{"domain":["12","18","24","14","20","28"],"range":["#262673","#FFFF00","transparent","#B8509E","transparent","#7C1416"]}},
  "shape":{"field":"s","type":"nominal","title":null,"scale":{"domain":["12","18","24","14","20","28"],"range":[
    "M-4.3,0H4.3M0,-1.05L1.05,0L0,1.05L-1.05,0Z",
    "M-4.3,0H-1M1,0H4.3M0,-1L1,0.8L-1,0.8Z",
    "M-4.3,0H4.3M-0.85,-0.85L0.85,0.85M-0.85,0.85L0.85,-0.85M0,-1.1V1.1",
    "M32.6,0M-4.3,0H4.3M-0.95,-0.95H0.95V0.95H-0.95Z",
    "M32.6,0M-4.3,0H4.3M-0.9,-0.9L0.9,0.9M-0.9,0.9L0.9,-0.9",
    "M32.6,0M-4.3,0H4.3M1,0L0.924,0.383L0.707,0.707L0.383,0.924L0,1L-0.383,0.924L-0.707,0.707L-0.924,0.383L-1,0L-0.924,-0.383L-0.707,-0.707L-0.383,-0.924L0,-1L0.383,-0.924L0.707,-0.707L0.924,-0.383Z"]},
   "legend":{"orient":"none","legendX":147,"legendY":368,"columns":2,"padding":5,"fillColor":"white","labelFontSize":26,"labelColor":"black","labelLimit":0,"labelExpr":"'20 m x ' + datum.label + ' m'","symbolSize":160,"symbolStrokeWidth":1.5,"symbolOffset":42,"labelOffset":21.5,"columnPadding":44.5,"rowPadding":6.5}}
 }},
{"data":{"values":[{"t":1000,"T":49.5,"T2":110}]},
 "mark":{"type":"rule","color":"black","strokeWidth":2},
 "encoding":{"x":{"field":"t","type":"quantitative"},"y":{"field":"T","type":"quantitative"},"y2":{"field":"T2"}}},
{"data":{"values":[{"t":1000,"t2":65000,"T":95.7}]},
 "mark":{"type":"rule","color":"black","strokeWidth":1.75},
 "encoding":{"x":{"field":"t","type":"quantitative"},"x2":{"field":"t2"},"y":{"field":"T","type":"quantitative"}}},
{"data":{"values":[{"t":71300,"T":95.7}]},
 "mark":{"type":"point","shape":"M1,0L-1,-0.67L-0.31,0L-1,0.67Z","size":841,"filled":true,"fill":"black","strokeWidth":0,"opacity":1},
 "encoding":{"x":{"field":"t","type":"quantitative"},"y":{"field":"T","type":"quantitative"}}},
{"data":{"values":[{"t":1700,"T":109.2,"txt":"Infinite Repository"},{"t":1700,"T":102.7,"txt":"(not valid)"}]},
 "mark":{"type":"text","font":"Liberation Serif","fontSize":24,"align":"left","baseline":"alphabetic","color":"black"},
 "encoding":{"x":{"field":"t","type":"quantitative"},"y":{"field":"T","type":"quantitative"},"text":{"field":"txt"}}},
{"data":{"values":[{"t":23.8,"T":33.1,"txt":"Tunnel spacing x Container spacing"}]},
 "mark":{"type":"text","font":"Liberation Sans","fontSize":26,"align":"center","baseline":"alphabetic","color":"black"},
 "encoding":{"x":{"field":"t","type":"quantitative"},"y":{"field":"T","type":"quantitative"},"text":{"field":"txt"}}}
]
}
